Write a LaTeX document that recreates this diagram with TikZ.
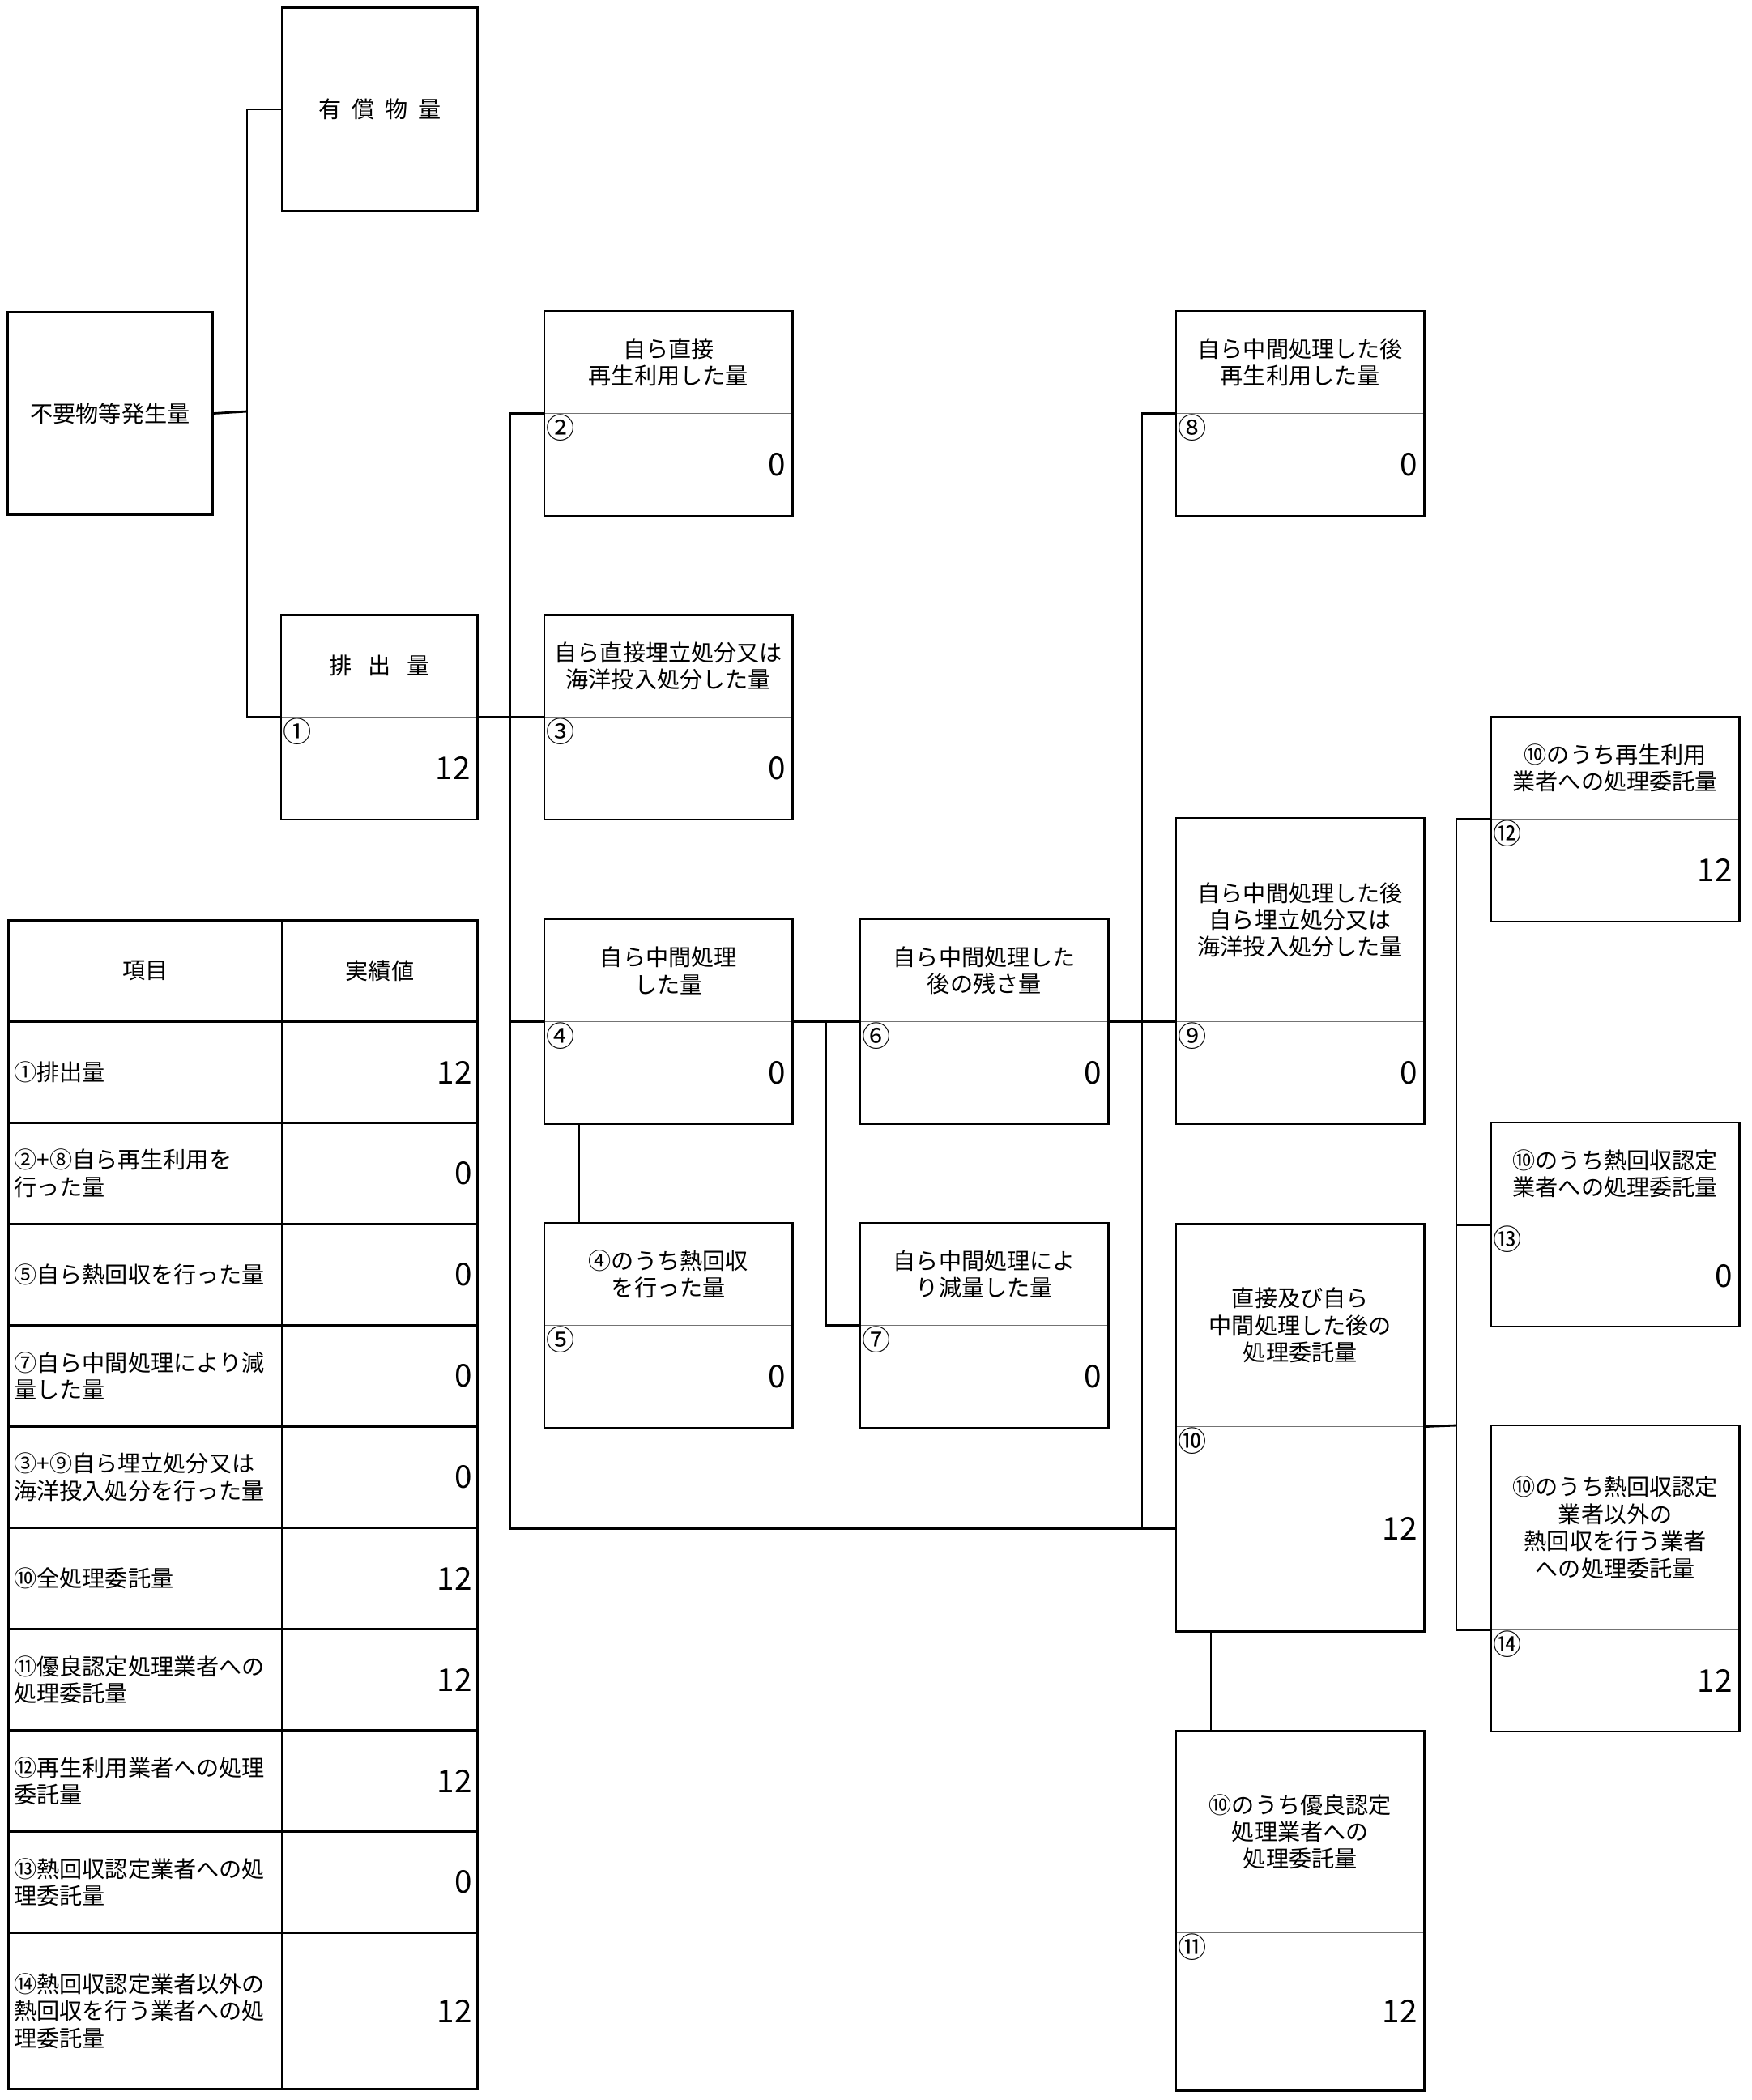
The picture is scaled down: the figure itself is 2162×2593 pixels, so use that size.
\documentclass[tikz,border=0pt]{standalone}
\usepackage{fontspec}
\setmainfont{Noto Sans CJK JP}

\begin{document}
\begin{tikzpicture}[x=0.01cm,y=-0.01cm,
  boxframe/.style={draw,line width=0.8pt},
  divline/.style={draw,black!55,line width=0.4pt},
  conn/.style={draw,line width=0.8pt},
  hd/.style={anchor=north west,inner sep=0pt,minimum width=3.05cm,minimum height=1.25cm,align=center,font=\fontsize{8}{9.5}\selectfont},
  vl/.style={anchor=north west,inner xsep=0.08cm,inner ysep=0pt,text width=2.89cm,minimum height=1.25cm,align=right,font=\fontsize{11}{12}\selectfont},
  circnum/.style={anchor=center,inner sep=0pt,font=\fontsize{10}{10}\selectfont},
  tcell/.style={draw,line width=0.8pt,anchor=north west,inner xsep=0.07cm,inner ysep=0pt,minimum height=1.25cm,font=\fontsize{8}{9.5}\selectfont},
  tname/.style={tcell,text width=3.24cm,align=left},
  tval/.style={tcell,text width=2.27cm,align=right,font=\fontsize{11}{12}\selectfont}]
  \useasboundingbox (0,0) rectangle (2162,2593);

  % single boxes
  \node[boxframe,anchor=north west,minimum width=2.41cm,minimum height=2.51cm,font=\fontsize{8}{9.5}\selectfont] (yu) at (347,8) {有\hspace{0.45em}償\hspace{0.45em}物\hspace{0.45em}量};
  \node[boxframe,anchor=north west,minimum width=2.53cm,minimum height=2.5cm,font=\fontsize{8}{9.5}\selectfont] (fy) at (8,384) {不要物等発生量};

  % split boxes: header (h) and value (v)
  \node[hd,minimum width=2.41cm] (h1) at (347,759) {排\hspace{0.7em}出\hspace{0.7em}量};
  \node[vl,text width=2.25cm] (v1) at (h1.south west) {12};
  \node[hd] (h2) at (672,384) {自ら直接\\再生利用した量};
  \node[vl] (v2) at (h2.south west) {0};
  \node[hd] (h3) at (672,759) {自ら直接埋立処分又は\\海洋投入処分した量};
  \node[vl] (v3) at (h3.south west) {0};
  \node[hd] (h4) at (672,1135) {自ら中間処理\\した量};
  \node[vl] (v4) at (h4.south west) {0};
  \node[hd] (h5) at (672,1510) {④のうち熱回収\\を行った量};
  \node[vl] (v5) at (h5.south west) {0};
  \node[hd] (h6) at (1062,1135) {自ら中間処理した\\後の残さ量};
  \node[vl] (v6) at (h6.south west) {0};
  \node[hd] (h7) at (1062,1510) {自ら中間処理によ\\り減量した量};
  \node[vl] (v7) at (h7.south west) {0};
  \node[hd] (h8) at (1452,384) {自ら中間処理した後\\再生利用した量};
  \node[vl] (v8) at (h8.south west) {0};
  \node[hd,minimum height=2.5cm] (h9) at (1452,1010) {自ら中間処理した後\\自ら埋立処分又は\\海洋投入処分した量};
  \node[vl] (v9) at (h9.south west) {0};
  \node[hd,minimum height=2.49cm] (h10) at (1452,1511) {直接及び自ら\\中間処理した後の\\処理委託量};
  \node[vl,minimum height=2.51cm] (v10) at (h10.south west) {12};
  \node[hd,minimum height=2.48cm] (h11) at (1452,2137) {⑩のうち優良認定\\処理業者への\\処理委託量};
  \node[vl,minimum height=1.93cm] (v11) at (h11.south west) {12};
  \node[hd] (h12) at (1841,885) {⑩のうち再生利用\\業者への処理委託量};
  \node[vl] (v12) at (h12.south west) {12};
  \node[hd] (h13) at (1841,1386) {⑩のうち熱回収認定\\業者への処理委託量};
  \node[vl,minimum height=1.24cm] (v13) at (h13.south west) {0};
  \node[hd,minimum height=2.51cm] (h14) at (1841,1760) {⑩のうち熱回収認定\\業者以外の\\熱回収を行う業者\\への処理委託量};
  \node[vl,minimum height=1.24cm] (v14) at (h14.south west) {12};

  % circled numbers
  \node[circnum] (n1) at ([xshift=0.2cm,yshift=-0.18cm]v1.north west) {①};
  \node[circnum] (n2) at ([xshift=0.2cm,yshift=-0.18cm]v2.north west) {②};
  \node[circnum] (n3) at ([xshift=0.2cm,yshift=-0.18cm]v3.north west) {③};
  \node[circnum] (n4) at ([xshift=0.2cm,yshift=-0.18cm]v4.north west) {④};
  \node[circnum] (n5) at ([xshift=0.2cm,yshift=-0.18cm]v5.north west) {⑤};
  \node[circnum] (n6) at ([xshift=0.2cm,yshift=-0.18cm]v6.north west) {⑥};
  \node[circnum] (n7) at ([xshift=0.2cm,yshift=-0.18cm]v7.north west) {⑦};
  \node[circnum] (n8) at ([xshift=0.2cm,yshift=-0.18cm]v8.north west) {⑧};
  \node[circnum] (n9) at ([xshift=0.2cm,yshift=-0.18cm]v9.north west) {⑨};
  \node[circnum] (n10) at ([xshift=0.2cm,yshift=-0.18cm]v10.north west) {⑩};
  \node[circnum] (n11) at ([xshift=0.2cm,yshift=-0.18cm]v11.north west) {⑪};
  \node[circnum] (n12) at ([xshift=0.2cm,yshift=-0.18cm]v12.north west) {⑫};
  \node[circnum] (n13) at ([xshift=0.2cm,yshift=-0.18cm]v13.north west) {⑬};
  \node[circnum] (n14) at ([xshift=0.2cm,yshift=-0.18cm]v14.north west) {⑭};

  \foreach \i in {1,...,14} {
    \draw[divline] (h\i.south west) -- (h\i.south east);
    \draw[boxframe] (h\i.north west) rectangle (v\i.south east);
  }

  % connectors
  \coordinate (j1) at (305,508);
  \coordinate (j2) at (630,884);
  \coordinate (j3) at (1020,1260);
  \coordinate (j4) at (1410,1260);
  \coordinate (j5) at (1798,1760);
  \draw[conn] (fy.east) -- (j1);
  \draw[conn] (yu.west) -| (j1) |- (h1.south west);
  \draw[conn] (h1.south east) -- (h3.south west);
  \draw[conn] (h2.south west) -| (j2) |- (v10.west);
  \draw[conn] (j2 |- h4.south west) -- (h4.south west);
  \draw[conn] ([xshift=0.43cm]v4.south west) -- ([xshift=0.43cm]h5.north west);
  \draw[conn] (h4.south east) -- (h6.south west);
  \draw[conn] (j3) |- (h7.south west);
  \draw[conn] (h6.south east) -- (h9.south west);
  \draw[conn] (h8.south west) -| (j4) -- (j4 |- v10.west);
  \draw[conn] (v10.north east) -- (j5);
  \draw[conn] (h12.south west) -| (j5) |- (h14.south west);
  \draw[conn] (j5 |- h13.south west) -- (h13.south west);
  \draw[conn] ([xshift=0.43cm]v10.south west) -- ([xshift=0.43cm]h11.north west);

  % table
  \node[tcell,minimum width=3.38cm] (t0a) at (9,1135) {項目};
  \node[tcell,minimum width=2.41cm] (t0b) at (347,1135) {実績値};
  \node[tname] (t1a) at (9,1260) {①排出量};
  \node[tval] (t1b) at (347,1260) {12};
  \node[tname] (t2a) at (9,1385) {②+⑧自ら再生利用を\\行った量};
  \node[tval] (t2b) at (347,1385) {0};
  \node[tname] (t3a) at (9,1510) {⑤自ら熱回収を行った量};
  \node[tval] (t3b) at (347,1510) {0};
  \node[tname] (t4a) at (9,1635) {⑦自ら中間処理により減\\量した量};
  \node[tval] (t4b) at (347,1635) {0};
  \node[tname] (t5a) at (9,1760) {③+⑨自ら埋立処分又は\\海洋投入処分を行った量};
  \node[tval] (t5b) at (347,1760) {0};
  \node[tname] (t6a) at (9,1885) {⑩全処理委託量};
  \node[tval] (t6b) at (347,1885) {12};
  \node[tname] (t7a) at (9,2010) {⑪優良認定処理業者への\\処理委託量};
  \node[tval] (t7b) at (347,2010) {12};
  \node[tname] (t8a) at (9,2135) {⑫再生利用業者への処理\\委託量};
  \node[tval] (t8b) at (347,2135) {12};
  \node[tname] (t9a) at (9,2260) {⑬熱回収認定業者への処\\理委託量};
  \node[tval] (t9b) at (347,2260) {0};
  \node[tname,minimum height=1.93cm] (t10a) at (9,2385) {⑭熱回収認定業者以外の\\熱回収を行う業者への処\\理委託量};
  \node[tval,minimum height=1.93cm] (t10b) at (347,2385) {12};
\end{tikzpicture}
\end{document}
